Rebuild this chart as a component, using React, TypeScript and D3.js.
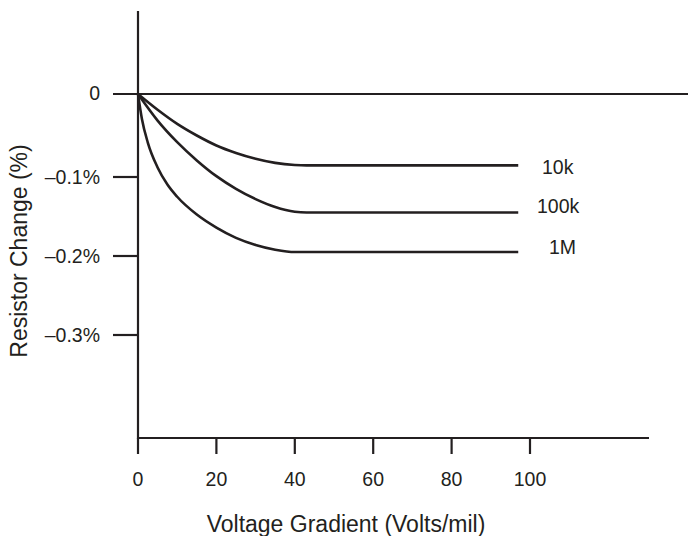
import React from "react";
import * as d3 from "d3";

const xTicks = [0, 20, 40, 60, 80, 100];
const yTicks = [-0.1, -0.2, -0.3];
const yTickLabels = ["–0.1%", "–0.2%", "–0.3%"];
const seriesNames = ["10k", "100k", "1M"];

const xs10k = [0, 5, 10, 15, 20, 25, 30, 35, 40, 43, 97];
const ys10k = [0, -0.019, -0.036, -0.05, -0.062, -0.071, -0.078, -0.083, -0.0855, -0.086, -0.086];

const xs100k = [0, 5, 10, 15, 20, 25, 30, 35, 40, 43, 97];
const ys100k = [0, -0.032, -0.058, -0.08, -0.099, -0.115, -0.128, -0.138, -0.144, -0.145, -0.145];

const xs1M = [0, 1, 2.5, 5, 7.5, 10, 15, 20, 25, 30, 35, 40, 97];
const ys1M = [0, -0.03, -0.0585, -0.0885, -0.1095, -0.125, -0.1475, -0.164, -0.177, -0.186, -0.192, -0.195, -0.195];

const W = 688;
const H = 536;
const INK = "#231f20";
const FONT = "'Liberation Sans', Arial, Helvetica, sans-serif";

export default function App() {
  const x = d3.scaleLinear().domain([0, 100]).range([138, 530]);
  const y = d3.scaleLinear().domain([0, -0.1, -0.3]).range([94, 177, 335]);

  const series = [
    { name: seriesNames[0], pts: xs10k.map((v, i) => [v, ys10k[i]] as [number, number]), lx: 542, ldy: 2 },
    { name: seriesNames[1], pts: xs100k.map((v, i) => [v, ys100k[i]] as [number, number]), lx: 537, ldy: -6 },
    { name: seriesNames[2], pts: xs1M.map((v, i) => [v, ys1M[i]] as [number, number]), lx: 549, ldy: -5 },
  ];

  const line = d3
    .line<[number, number]>()
    .x((d) => x(d[0]))
    .y((d) => y(d[1]))
    .curve(d3.curveMonotoneX);

  const axisX0 = x(0);
  const axisY = 438;

  return (
    <svg
      width={W}
      height={H}
      style={{ position: "absolute", left: 0, top: 0, background: "#fff" }}
      fontFamily={FONT}
    >
      <line x1={axisX0} x2={axisX0} y1={11} y2={axisY + 1} stroke={INK} strokeWidth={2.2} />
      <line x1={axisX0 - 1} x2={649} y1={axisY} y2={axisY} stroke={INK} strokeWidth={2.2} />
      <line x1={113} x2={W} y1={y(0)} y2={y(0)} stroke={INK} strokeWidth={2.2} />
      <text x={100} y={y(0)} dy="0.3em" textAnchor="end" fontSize={19.5} fill={INK}>
        0
      </text>

      {yTicks.map((t, i) => (
        <g key={t}>
          <line x1={113} x2={axisX0} y1={y(t)} y2={y(t)} stroke={INK} strokeWidth={2.2} />
          <text x={100} y={y(t)} dy="0.35em" textAnchor="end" fontSize={19.5} fill={INK}>
            {yTickLabels[i]}
          </text>
        </g>
      ))}

      {xTicks.map((t) => (
        <g key={t}>
          <line x1={x(t)} x2={x(t)} y1={axisY} y2={454} stroke={INK} strokeWidth={2.2} />
          <text x={x(t)} y={486} textAnchor="middle" fontSize={19.5} fill={INK}>
            {t}
          </text>
        </g>
      ))}

      {series.map((s) => {
        const last = s.pts[s.pts.length - 1];
        return (
          <g key={s.name}>
            <path d={line(s.pts) || ""} fill="none" stroke={INK} strokeWidth={2.6} />
            <text x={s.lx} y={y(last[1]) + s.ldy} dy="0.35em" fontSize={19.5} fill={INK}>
              {s.name}
            </text>
          </g>
        );
      })}

      <text x={346} y={532} textAnchor="middle" fontSize={23} fill={INK}>
        Voltage Gradient (Volts/mil)
      </text>
      <text transform="translate(26.5,251) rotate(-90)" textAnchor="middle" fontSize={23} fill={INK}>
        Resistor Change (%)
      </text>
    </svg>
  );
}
